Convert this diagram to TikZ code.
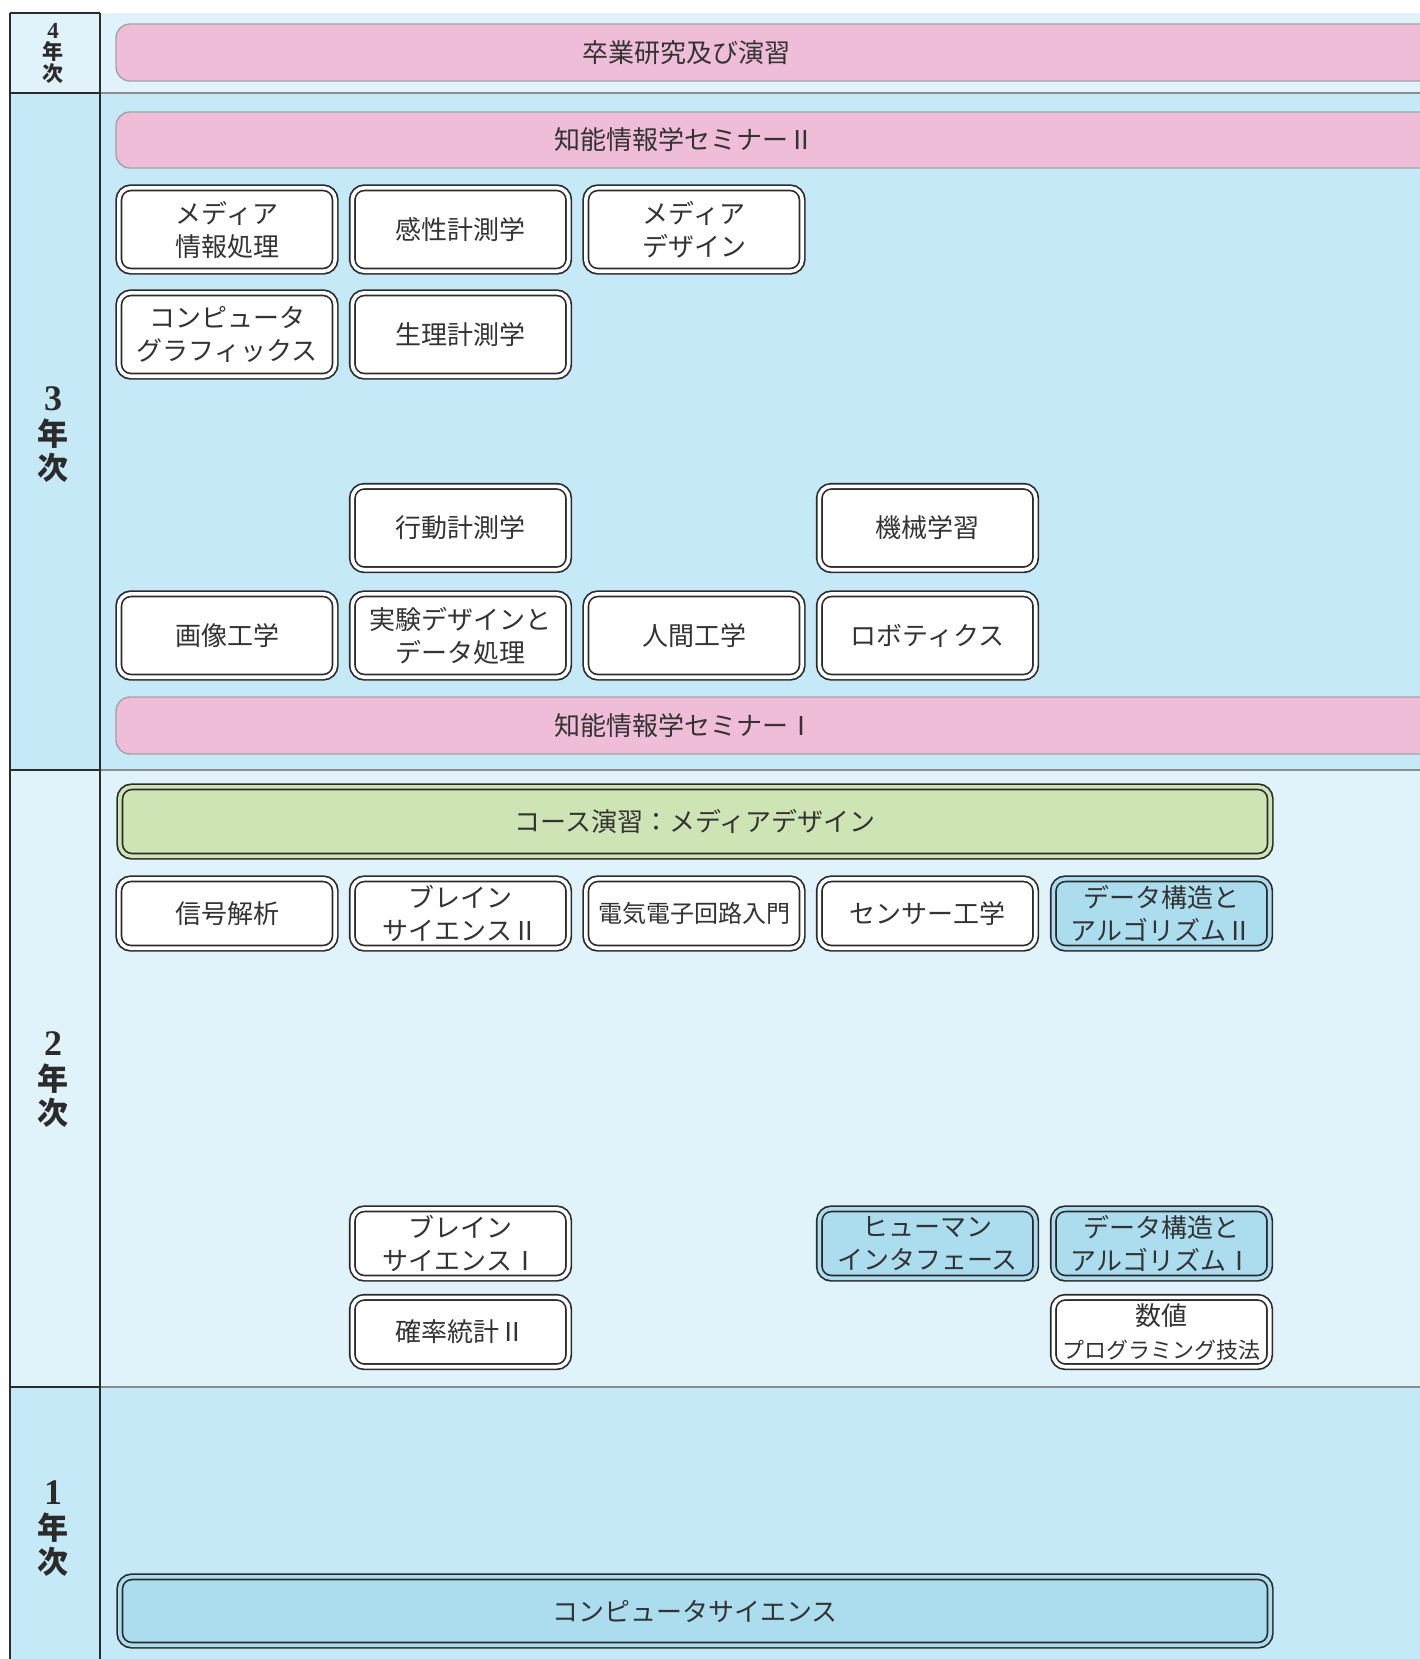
\documentclass[tikz,border=0pt]{standalone}
\usepackage{fontspec}
\newfontfamily\jp{Noto Sans CJK JP}
\newfontfamily\numf{Liberation Serif}
\definecolor{bgA}{HTML}{E0F3FB}
\definecolor{bgB}{HTML}{C6E9F8}
\definecolor{pinkc}{HTML}{EFBDD8}
\definecolor{greenc}{HTML}{CFE4B5}
\definecolor{blueb}{HTML}{ABDDEF}
\definecolor{darkl}{HTML}{2B2B2B}
\definecolor{grayl}{HTML}{8C8C8C}
\definecolor{textc}{HTML}{333333}
\newcommand{\bignum}[1]{{\numf\bfseries\fontsize{36}{34.5}\selectfont #1}}
\newcommand{\smallnum}[1]{{\numf\bfseries\fontsize{23}{21.5}\selectfont #1}}
\begin{document}
\begin{tikzpicture}[x=1pt,y=-1pt,
  cbox/.style={draw=darkl, line width=1.7pt, double=white, double distance=3.6pt,
    fill=white, rounded corners=12pt, minimum width=216.4pt, minimum height=83.4pt,
    inner sep=0pt, align=center, text=textc,
    font=\jp\fontsize{26}{33}\selectfont},
  sbox/.style={cbox, minimum height=69.4pt},
  bbox/.style={sbox, fill=blueb, double=blueb},
  pinkbar/.style={fill=pinkc, draw=grayl!80, line width=1.4pt, rounded corners=14pt},
  bartext/.style={inner sep=0pt, text=textc, font=\jp\fontsize{26}{33}\selectfont},
  ylab/.style={inner sep=0pt, align=center, text=darkl,
    font=\bfseries\fontsize{31}{34.5}\selectfont},
  ylabs/.style={inner sep=0pt, align=center, text=darkl,
    font=\bfseries\fontsize{21}{21.5}\selectfont}]
\clip (0,0) rectangle (1420,1659);
\fill[white] (0,0) rectangle (1420,1659);
% row backgrounds
\fill[bgA] (10,13) rectangle (1420,93);
\fill[bgB] (10,93) rectangle (1420,770);
\fill[bgA] (10,770) rectangle (1420,1387);
\fill[bgB] (10,1387) rectangle (1420,1659);
% grid lines
\draw[grayl, line width=2pt] (100,93) -- (1420,93);
\draw[grayl, line width=2pt] (100,770) -- (1420,770);
\draw[grayl, line width=2pt] (100,1387) -- (1420,1387);
\draw[darkl, line width=1.6pt] (10,13) -- (100,13);
\draw[darkl, line width=1.6pt] (10,93) -- (100,93);
\draw[darkl, line width=1.6pt] (10,770) -- (100,770);
\draw[darkl, line width=1.6pt] (10,1387) -- (100,1387);
\draw[darkl, line width=1.6pt] (10,13) -- (10,1659);
\draw[darkl, line width=1.6pt] (100,13) -- (100,1659);
% year labels
\node[ylabs] (y4) at (53,53) {\smallnum{4}\\{\jp 年}\\{\jp 次}};
\node[ylab] (y3) at (53,435) {\bignum{3}\\{\jp 年}\\{\jp 次}};
\node[ylab] (y2) at (53,1080) {\bignum{2}\\{\jp 年}\\{\jp 次}};
\node[ylab] (y1) at (53,1529) {\bignum{1}\\{\jp 年}\\{\jp 次}};
% pink bars
\path[pinkbar] (116,24) rectangle (1470,81);
\node[bartext] (sotsu) at (686,52.5) {卒業研究及び演習};
\path[pinkbar] (116,112) rectangle (1470,168);
\node[bartext] (semi2) at (684,140) {知能情報学セミナーⅡ};
\path[pinkbar] (116,697) rectangle (1470,754);
\node[bartext] (semi1) at (684,725.5) {知能情報学セミナーⅠ};
% year 3 boxes
\node[cbox] (mi) at (227,229.5) {メディア\\情報処理};
\node[cbox] (kansei) at (460.5,229.5) {感性計測学};
\node[cbox] (md) at (694,229.5) {メディア\\デザイン};
\node[cbox] (cg) at (227,334.5) {コンピュータ\\グラフィックス};
\node[cbox] (seiri) at (460.5,334.5) {生理計測学};
\node[cbox] (kodo) at (460.5,528) {行動計測学};
\node[cbox] (ml) at (927.5,528) {機械学習};
\node[cbox] (gazo) at (227,635.5) {画像工学};
\node[cbox] (jikken) at (460.5,635.5) {実験デザインと\\データ処理};
\node[cbox] (ningen) at (694,635.5) {人間工学};
\node[cbox] (robo) at (927.5,635.5) {ロボティクス};
% year 2
\node[sbox, fill=greenc, double=greenc, minimum width=1150.4pt] (course) at (695,821.5) {コース演習：メディアデザイン};
\node[sbox] (shingo) at (227,913.5) {信号解析};
\node[sbox] (brain2) at (460.5,913.5) {ブレイン\\サイエンスⅡ};
\node[sbox, font=\jp\fontsize{24}{33}\selectfont] (denki) at (694,913.5) {電気電子回路入門};
\node[sbox] (sensor) at (927.5,913.5) {センサー工学};
\node[bbox] (ds2) at (1161.5,913.5) {データ構造と\\アルゴリズムⅡ};
\node[sbox] (brain1) at (460.5,1243.5) {ブレイン\\サイエンスⅠ};
\node[bbox] (hi) at (927.5,1243.5) {ヒューマン\\インタフェース};
\node[bbox] (ds1) at (1161.5,1243.5) {データ構造と\\アルゴリズムⅠ};
\node[sbox] (prob2) at (460.5,1332) {確率統計Ⅱ};
\node[sbox, font=\jp\fontsize{22}{33}\selectfont] (suchi) at (1161.5,1332) {{\fontsize{26}{33}\selectfont 数値}\\プログラミング技法};
% year 1
\node[bbox, minimum width=1150.4pt, minimum height=68.4pt] (cs) at (695,1611) {コンピュータサイエンス};
\end{tikzpicture}
\end{document}
